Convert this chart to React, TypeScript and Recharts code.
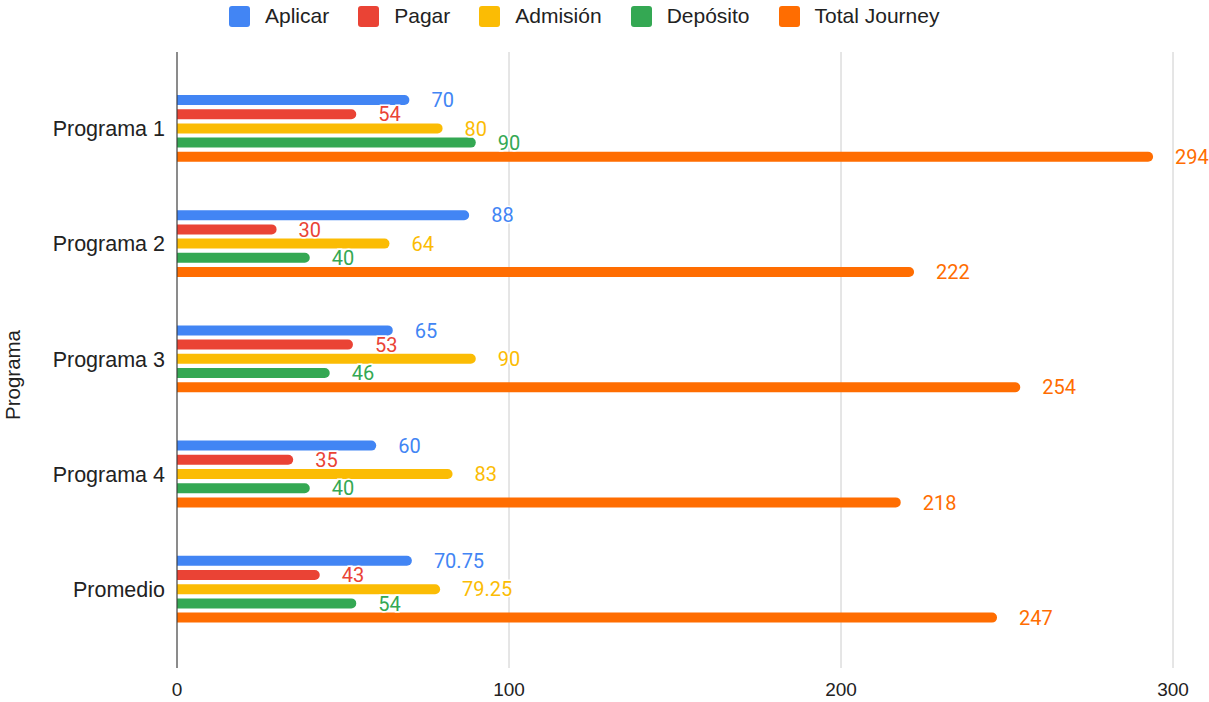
import React from 'react';
import { BarChart, Bar, XAxis, YAxis, CartesianGrid, LabelList, Label } from 'recharts';

const categories = ['Programa 1', 'Programa 2', 'Programa 3', 'Programa 4', 'Promedio'];
const aplicar = [70, 88, 65, 60, 70.75];
const pagar = [54, 30, 53, 35, 43];
const admision = [80, 64, 90, 83, 79.25];
const deposito = [90, 40, 46, 40, 54];
const totalJourney = [294, 222, 254, 218, 247];
const xTicks = [0, 100, 200, 300];

const seriesNames = ['Aplicar', 'Pagar', 'Admisión', 'Depósito', 'Total Journey'];
const seriesKeys = ['aplicar', 'pagar', 'admision', 'deposito', 'total'];
const seriesColors = ['#4285F4', '#EA4335', '#FBBC04', '#34A853', '#FF6D01'];

const data = categories.map((c, i) => ({
  name: c,
  aplicar: aplicar[i],
  pagar: pagar[i],
  admision: admision[i],
  deposito: deposito[i],
  total: totalJourney[i],
}));

const AXIS_FONT = 'Arial, "Liberation Sans", sans-serif';
const LABEL_FONT = 'Roboto, Arial, sans-serif';

function LegendRow() {
  return (
    <div
      style={{
        position: 'absolute',
        top: 0,
        left: 0,
        width: 1209,
        height: 32,
        display: 'flex',
        justifyContent: 'flex-start',
        alignItems: 'center',
        paddingLeft: 229,
        boxSizing: 'border-box',
        fontFamily: AXIS_FONT,
        fontSize: 21,
        color: '#222',
      }}
    >
      {seriesNames.map((n, i) => (
        <div key={n} style={{ display: 'flex', alignItems: 'center', marginRight: i < seriesNames.length - 1 ? 29 : 0 }}>
          <div style={{ width: 21, height: 21, borderRadius: 3, background: seriesColors[i], marginRight: 15 }} />
          <span>{n}</span>
        </div>
      ))}
    </div>
  );
}

export default function App() {
  return (
    <div style={{ position: 'absolute', left: 0, top: 0, width: 1209, height: 702, background: '#fff' }}>
      <BarChart
        width={1209}
        height={702}
        data={data}
        layout="vertical"
        margin={{ top: 52, right: 36, bottom: 0, left: 0 }}
        barSize={10}
        barGap={4.2}
      >
        <CartesianGrid horizontal={false} stroke="#cccccc" />
        <XAxis
          type="number"
          domain={[0, 300]}
          ticks={xTicks}
          height={34}
          axisLine={false}
          tickLine={false}
          tickSize={0}
          tickMargin={15}
          tick={{ fill: '#222', fontSize: 19, fontFamily: AXIS_FONT }}
        />
        <YAxis
          type="category"
          dataKey="name"
          width={177}
          axisLine={{ stroke: '#333', strokeWidth: 1 }}
          tickLine={false}
          tickSize={0}
          tickMargin={12}
          padding={{ top: 19, bottom: 21 }}
          tick={{ fill: '#222', fontSize: 21.5, fontFamily: AXIS_FONT }}
        >
          <Label
            content={() => (
              <text
                x={12}
                y={375}
                transform="rotate(-90 12 375)"
                textAnchor="middle"
                dominantBaseline="central"
                fill="#222"
                fontSize={20.5}
                fontFamily={AXIS_FONT}
              >
                Programa
              </text>
            )}
          />
        </YAxis>
        {seriesKeys.map((k, i) => (
          <Bar
            key={k}
            dataKey={k}
            name={seriesNames[i]}
            fill={seriesColors[i]}
            radius={[0, 5, 5, 0]}
            isAnimationActive={false}
          >
            <LabelList
              dataKey={k}
              position="right"
              offset={22}
              fill={seriesColors[i]}
              fontSize={20}
              fontFamily={LABEL_FONT}
              stroke="#fff"
              strokeWidth={3}
              style={{ paintOrder: 'stroke' }}
            />
          </Bar>
        ))}
      </BarChart>
      <LegendRow />
    </div>
  );
}
